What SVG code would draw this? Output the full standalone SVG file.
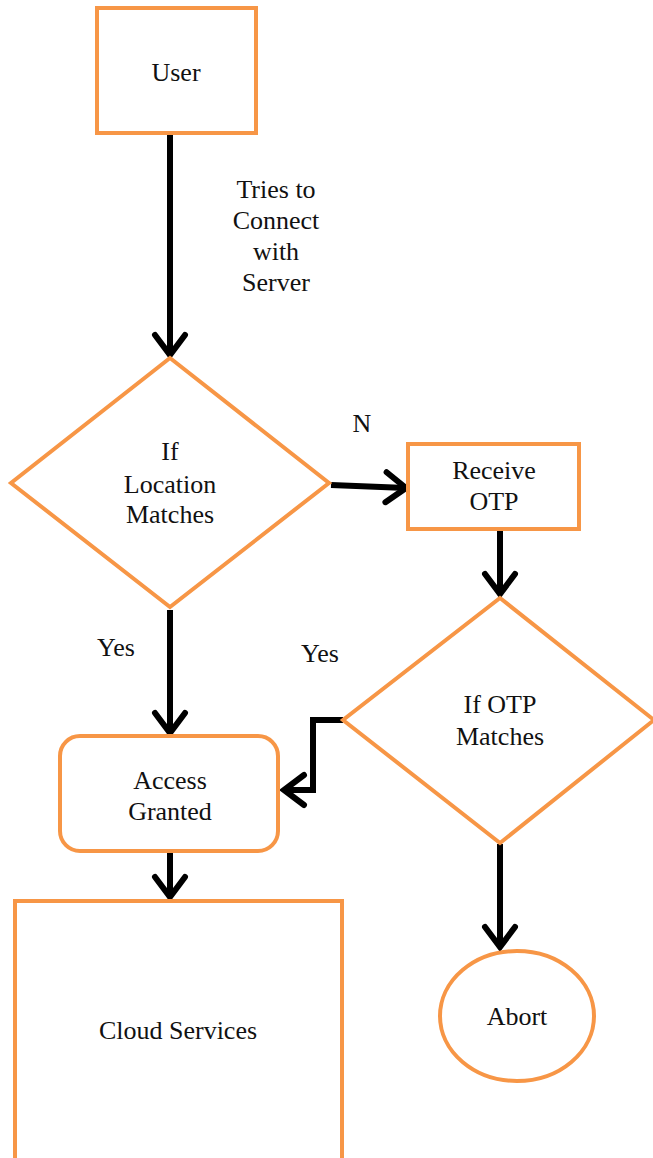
<svg xmlns="http://www.w3.org/2000/svg" width="653" height="1158" viewBox="0 0 653 1158">
<style>
.node{fill:#fff;stroke:#F79646;stroke-width:4}
.lbl{font-family:'Liberation Serif','Times New Roman','DejaVu Serif',serif;font-size:26px;fill:#111;text-anchor:middle}
.conn{fill:none;stroke:#000;stroke-width:6}
</style>
<defs>
<marker id="arr" markerUnits="userSpaceOnUse" viewBox="-26 -20 32 40" refX="0" refY="0" markerWidth="32" markerHeight="40" orient="auto">
<path d="M-20,-15 L0,0 L-20,15" fill="none" stroke="#000" stroke-width="6" stroke-linecap="round"/>
</marker>
</defs>
<rect width="653" height="1158" fill="#fff"/>
<g id="connectors">
<line class="conn" x1="170" y1="135" x2="170" y2="355" marker-end="url(#arr)"/>
<line class="conn" x1="331" y1="485" x2="406" y2="488" marker-end="url(#arr)"/>
<line class="conn" x1="500" y1="531" x2="500" y2="594" marker-end="url(#arr)"/>
<line class="conn" x1="170" y1="610" x2="170" y2="733" marker-end="url(#arr)"/>
<polyline class="conn" points="343,720 313,720 313,790 284,790" marker-end="url(#arr)"/>
<line class="conn" x1="170" y1="852" x2="170" y2="897" marker-end="url(#arr)"/>
<line class="conn" x1="500" y1="844" x2="500" y2="947" marker-end="url(#arr)"/>
<text class="lbl" x="276" y="198">Tries to</text>
<text class="lbl" x="276" y="229">Connect</text>
<text class="lbl" x="276" y="260">with</text>
<text class="lbl" x="276" y="291">Server</text>
<text class="lbl" x="362" y="432">N</text>
<text class="lbl" x="116" y="656">Yes</text>
<text class="lbl" x="320" y="662">Yes</text>
</g>
<g id="user">
<rect class="node" x="97" y="8" width="159" height="125"/>
<text class="lbl" x="176" y="81">User</text>
</g>
<g id="location">
<polygon class="node" points="170,358 329,483 170,607 11,483"/>
<text class="lbl" x="170" y="460">If</text>
<text class="lbl" x="170" y="493">Location</text>
<text class="lbl" x="170" y="523">Matches</text>
</g>
<g id="receive">
<rect class="node" x="408" y="444" width="171" height="85"/>
<text class="lbl" x="494" y="479">Receive</text>
<text class="lbl" x="494" y="510">OTP</text>
</g>
<g id="otp">
<polygon class="node" points="500,598 654,720 500,843 343,720"/>
<text class="lbl" x="500" y="713">If OTP</text>
<text class="lbl" x="500" y="745">Matches</text>
</g>
<g id="access">
<rect class="node" x="60" y="736" width="218" height="115" rx="20" ry="20"/>
<text class="lbl" x="170" y="789">Access</text>
<text class="lbl" x="170" y="820">Granted</text>
</g>
<g id="cloud">
<rect class="node" x="15" y="901" width="327" height="270"/>
<text class="lbl" x="178" y="1039">Cloud Services</text>
</g>
<g id="abort">
<ellipse class="node" cx="517" cy="1016" rx="77" ry="65"/>
<text class="lbl" x="517" y="1025">Abort</text>
</g>
</svg>
